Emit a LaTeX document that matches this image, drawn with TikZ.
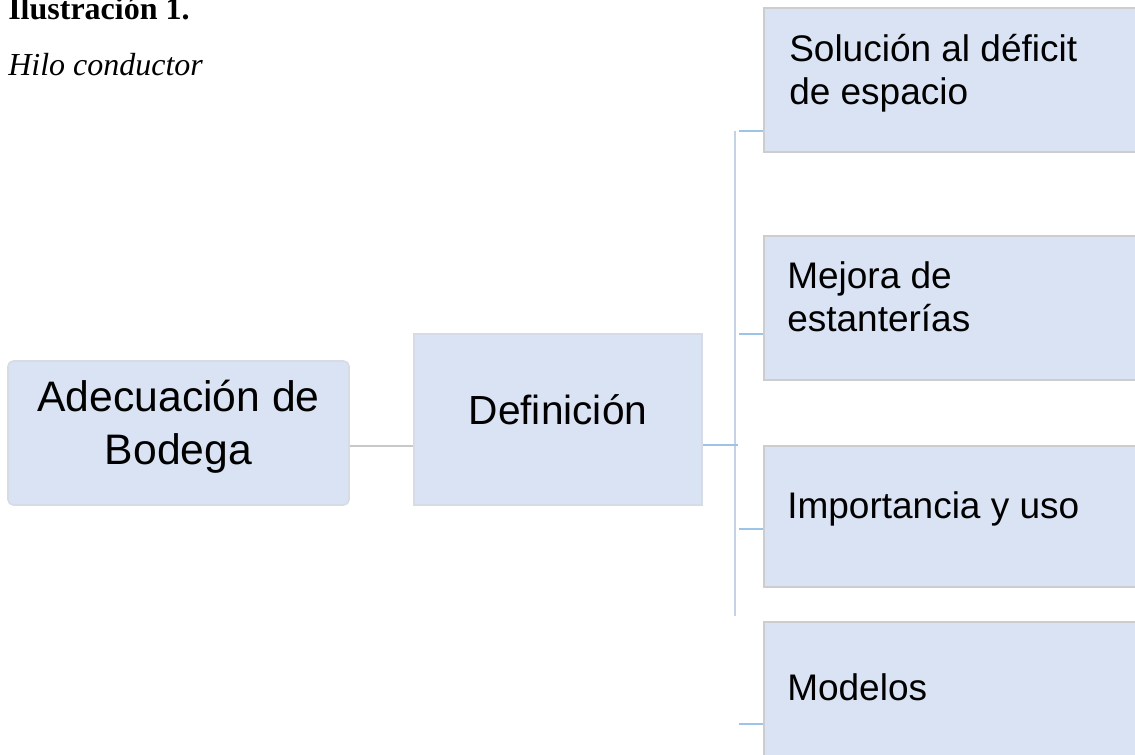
\documentclass[tikz,border=0pt]{standalone}
\usepackage{fontspec}
\setmainfont{Liberation Serif}
\newfontfamily\arialf{Liberation Sans}
\definecolor{boxfill}{RGB}{218,227,243}
\definecolor{lborder}{RGB}{214,220,229}
\definecolor{rborder}{RGB}{205,205,205}
\definecolor{grayline}{RGB}{200,200,200}
\definecolor{blueline}{RGB}{157,195,230}
\definecolor{trunkline}{RGB}{197,210,230}
\tikzset{
  lbox/.style={draw=lborder, line width=1.2pt, fill=boxfill, inner sep=0pt},
  rbox/.style={draw=rborder, line width=2pt, fill=boxfill, inner sep=0pt, minimum width=396*0.75pt},
  ltxt/.style={font=\arialf\fontsize{32pt}{39.75pt}\selectfont, align=center, inner sep=0pt},
  dtxt/.style={font=\arialf\fontsize{30.5pt}{36pt}\selectfont, align=center, inner sep=0pt},
  rtxt/.style={font=\arialf\fontsize{27.75pt}{32.25pt}\selectfont, align=left, inner sep=0pt, anchor=west},
  branch/.style={draw=blueline, line width=1.2pt},
  greyconn/.style={draw=grayline, line width=1.2pt},
  trunk/.style={draw=trunkline, line width=1.2pt}
}
\begin{document}
\begin{tikzpicture}[x=0.75pt,y=-0.75pt]
\useasboundingbox (0,0) rectangle (1135,755);
\clip (0,0) rectangle (1135,755);
% title
\node[anchor=base west, inner sep=0pt, font=\fontsize{24pt}{28pt}\selectfont\bfseries] (title) at (8,20) {Ilustración 1.};
\node[anchor=base west, inner sep=0pt, font=\fontsize{24pt}{28pt}\selectfont\itshape] (subtitle) at (8,76) {Hilo conductor};
% left boxes
\node[lbox, rounded corners=4pt, minimum width=341*0.75pt, minimum height=144*0.75pt] (ade) at (178.5,433) {};
\node[ltxt] (adet) at (178.5,427) {Adecuación de\\Bodega};
\node[lbox, minimum width=288*0.75pt, minimum height=171*0.75pt] (def) at (558,419.5) {};
\node[dtxt] (deft) at (558,410) {Definición};
% right boxes
\node[rbox, minimum height=144*0.75pt] (s1) at (962,80) {};
\node[rtxt] (s1t) at (789,73) {Solución al déficit\\de espacio};
\node[rbox, minimum height=144*0.75pt] (s2) at (962,308) {};
\node[rtxt] (s2t) at (787,297) {Mejora de\\estanterías};
\node[rbox, minimum height=141*0.75pt] (s3) at (962,516.5) {};
\node[rtxt] (s3t) at (787,509) {Importancia y uso};
\node[rbox, minimum height=144*0.75pt] (s4) at (962,694) {};
\node[rtxt] (s4t) at (787,687) {Modelos};
% connectors
\draw[greyconn] ([yshift=-13*0.75pt]ade.east) -- ([yshift=-26.5*0.75pt]def.west);
\coordinate (ttop) at (735,131);
\coordinate (tbot) at (735,616);
\coordinate (tmid) at (738,445);
\draw[trunk] (ttop) -- (tbot);
\draw[branch] ([yshift=-25.5*0.75pt]def.east) -- (tmid);
\coordinate (b1) at (739,131);
\coordinate (b2) at (739,334);
\coordinate (b3) at (739,529);
\coordinate (b4) at (739,724);
\draw[branch] (b1) -- (s1.west |- b1);
\draw[branch] (b2) -- (s2.west |- b2);
\draw[branch] (b3) -- (s3.west |- b3);
\draw[branch] (b4) -- (s4.west |- b4);
\end{tikzpicture}
\end{document}
